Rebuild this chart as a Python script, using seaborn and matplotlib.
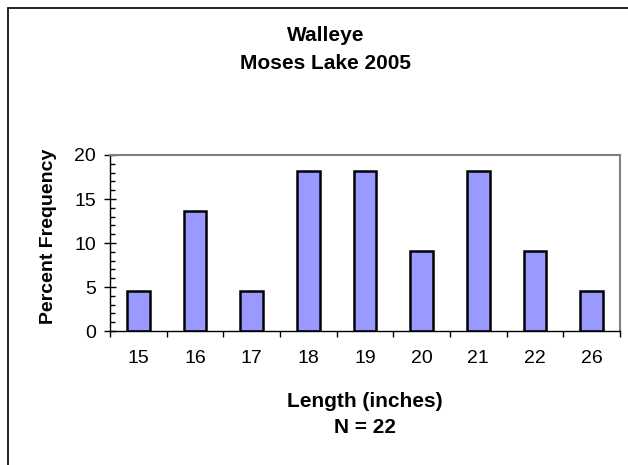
import numpy as np
import pandas as pd
import matplotlib

matplotlib.use("Agg")
import matplotlib.pyplot as plt
from matplotlib.lines import Line2D
from matplotlib.ticker import MultipleLocator, FixedLocator
import seaborn as sns

# Walleye length frequency, Moses Lake 2005 (N = 22)
lengths = ["15", "16", "17", "18", "19", "20", "21", "22", "26"]
counts = [1, 3, 1, 4, 4, 2, 4, 2, 1]
n_fish = 22
pct = [c / n_fish * 100 for c in counts]

df = pd.DataFrame({"length": lengths, "pct": pct})

sns.set_style("white")
plt.rcParams["font.family"] = ["Liberation Sans", "DejaVu Sans"]
plt.rcParams["text.color"] = "black"
plt.rcParams["xtick.color"] = "black"
plt.rcParams["ytick.color"] = "black"

W, H = 628, 465
fig = plt.figure(figsize=(W / 100, H / 100), dpi=100)
ax = fig.add_axes([110 / W, 1 - 331 / H, 510 / W, 176 / H])

sns.barplot(
    data=df,
    x="length",
    y="pct",
    color="#9999FF",
    saturation=1,
    width=0.4,
    edgecolor="black",
    linewidth=1.8,
    ax=ax,
)

ax.set_xlim(-0.5, len(lengths) - 0.5)
ax.set_ylim(0, 20)
ax.yaxis.set_major_locator(MultipleLocator(5))
ax.yaxis.set_minor_locator(MultipleLocator(1))
ax.xaxis.set_minor_locator(FixedLocator(np.arange(-0.5, len(lengths), 1)))

ax.tick_params(axis="y", which="major", direction="inout", length=8, width=1,
               color="black", labelcolor="black", labelsize=14, pad=6, left=True)
ax.tick_params(axis="y", which="minor", direction="in", length=3.5, width=1,
               color="black", left=True)
ax.tick_params(axis="x", which="major", length=0, labelsize=14, pad=14,
               labelcolor="black")
ax.tick_params(axis="x", which="minor", direction="out", length=4, width=1,
               color="black", bottom=True)

for side in ["left", "bottom"]:
    ax.spines[side].set_color("black")
    ax.spines[side].set_linewidth(1)
for side in ["top", "right"]:
    ax.spines[side].set_color("#808080")
    ax.spines[side].set_linewidth(1.5)
ax.set_xlabel("")
ax.set_ylabel("")

# titles and axis labels
fig.text(326 / W, 1 - 41 / H, "Walleye", ha="center", va="baseline",
         fontsize=15, fontweight="bold", color="black")
fig.text(326 / W, 1 - 69 / H, "Moses Lake 2005", ha="center", va="baseline",
         fontsize=15, fontweight="bold", color="black")
fig.text(365 / W, 1 - 407 / H, "Length (inches)", ha="center", va="baseline",
         fontsize=15, fontweight="bold", color="black")
fig.text(365 / W, 1 - 433 / H, f"N = {n_fish}", ha="center", va="baseline",
         fontsize=15, fontweight="bold", color="black")
fig.text(53 / W, 1 - 236 / H, "Percent Frequency", ha="center", va="baseline",
         rotation=90, rotation_mode="anchor", fontsize=14, fontweight="bold",
         color="black")

# chart frame (left and top edges visible)
fig.add_artist(Line2D([8 / W, 8 / W], [0, 1 - 8 / H], color="black", lw=1.2))
fig.add_artist(Line2D([8 / W, 1], [1 - 8 / H, 1 - 8 / H], color="black", lw=1.2))

fig.savefig("out.png", dpi=100)
